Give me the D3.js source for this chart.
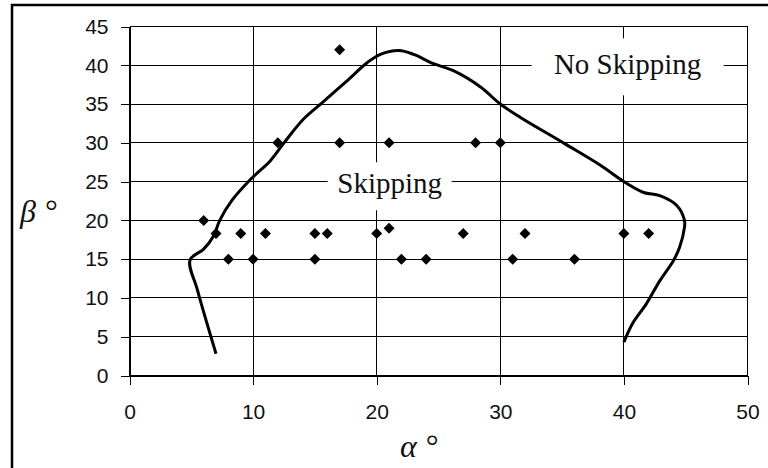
<!DOCTYPE html>
<html>
<head>
<meta charset="utf-8">
<script src="https://cdn.jsdelivr.net/npm/d3@7"></script>
<style>
  html, body { margin: 0; padding: 0; background: #fff; }
  svg { display: block; }
</style>
</head>
<body>
<svg id="chart" width="768" height="468"></svg>
<script>
// Measured (alpha, beta) combinations, in degrees
const pointAlpha = [6, 7, 8, 9, 10, 11, 12, 15, 15, 16, 17, 17, 20, 21, 21, 22, 24, 27, 28, 30, 31, 32, 36, 40, 42];
const pointBeta  = [20, 18.3, 15, 18.3, 15, 18.3, 30, 18.3, 15, 18.3, 42, 30, 18.3, 19, 30, 15, 15, 18.3, 30, 30, 15, 18.3, 15, 18.3, 18.3];

// Boundary between the skipping and no-skipping regions
const boundaryAlpha = [7.0, 5.5, 4.9, 6.0, 6.8, 7.3, 8.3, 9.8, 11.4, 12.5, 14.1, 15.6, 17.6, 19.2, 20.3, 21.8, 23.0, 24.6, 26.2, 28.4, 30.0, 31.6, 35.2, 38.1, 39.9, 41.6, 42.9, 44.3, 44.9, 44.9, 44.5, 44.0, 42.9, 41.8, 40.7, 40.0];
const boundaryBeta  = [2.8, 11.0, 14.9, 16.3, 18.0, 20.0, 22.6, 25.3, 27.7, 30.0, 33.1, 35.2, 38.0, 40.3, 41.4, 41.9, 41.4, 40.2, 39.3, 37.2, 35.0, 33.3, 29.9, 27.1, 25.1, 23.6, 23.2, 21.9, 20.0, 19.1, 16.5, 14.8, 12.2, 9.2, 6.7, 4.3];

const xTicks = [0, 10, 20, 30, 40, 50];
const yTicks = [0, 5, 10, 15, 20, 25, 30, 35, 40, 45];

const regionLabels = ["Skipping", "No Skipping"];
const regionAlpha = [21.05, 40.3];
const regionBeta = [24.4, 39.8];

const svg = d3.select("#chart");
const x = d3.scaleLinear().domain([0, 50]).range([129.5, 747.5]);
const y = d3.scaleLinear().domain([0, 45]).range([375.5, 26.5]);

// outer frame (left and top edges visible)
svg.append("rect")
  .attr("x", 12).attr("y", 5).attr("width", 900).attr("height", 600)
  .attr("fill", "none").attr("stroke", "#000").attr("stroke-width", 2.5);

const tickFont = "'Liberation Sans', Arial, sans-serif";

// horizontal grid + y axis
const yAxis = d3.axisLeft(y).tickValues(yTicks).tickSize(9).tickSizeOuter(0).tickPadding(12)
  .tickFormat(d3.format("d"));
const gy = svg.append("g").attr("transform", `translate(${x(0)},0)`).call(yAxis);
gy.select(".domain").attr("stroke", "#000").attr("shape-rendering", "crispEdges");
gy.selectAll(".tick line").attr("stroke", "#000").attr("shape-rendering", "crispEdges");
gy.selectAll(".tick text").attr("font-family", tickFont).attr("font-size", 21).attr("fill", "#111");

svg.append("g").selectAll("line").data(yTicks).join("line")
  .attr("x1", x(0)).attr("x2", x(50))
  .attr("y1", d => y(d)).attr("y2", d => y(d))
  .attr("stroke", "#000").attr("stroke-width", 1).attr("shape-rendering", "crispEdges");

// vertical grid + x axis
const xAxis = d3.axisBottom(x).tickValues(xTicks).tickSize(9).tickSizeOuter(0).tickPadding(20)
  .tickFormat(d3.format("d"));
const gx = svg.append("g").attr("transform", `translate(0,${y(0)})`).call(xAxis);
gx.select(".domain").attr("stroke", "#000").attr("shape-rendering", "crispEdges");
gx.selectAll(".tick line").attr("stroke", "#000").attr("shape-rendering", "crispEdges");
gx.selectAll(".tick text").attr("font-family", tickFont).attr("font-size", 21).attr("fill", "#111");

svg.append("g").selectAll("line").data(xTicks).join("line")
  .attr("x1", d => x(d)).attr("x2", d => x(d))
  .attr("y1", y(0)).attr("y2", y(45))
  .attr("stroke", "#000").attr("stroke-width", 1).attr("shape-rendering", "crispEdges");

// region labels on white boxes
const labelFont = "'Liberation Serif', 'Times New Roman', serif";
const boxes = [{w: 124, h: 48}, {w: 192, h: 57}];
regionLabels.forEach((t, i) => {
  const cx = x(regionAlpha[i]), cy = y(regionBeta[i]);
  svg.append("rect")
    .attr("x", cx - boxes[i].w / 2).attr("y", cy - boxes[i].h / 2)
    .attr("width", boxes[i].w).attr("height", boxes[i].h)
    .attr("fill", "#fff");
  svg.append("text")
    .attr("x", cx).attr("y", cy + 7)
    .attr("text-anchor", "middle")
    .attr("font-family", labelFont).attr("font-size", 29)
    .attr("fill", "#111")
    .text(t);
});

// boundary curve
const boundary = boundaryAlpha.map((a, i) => [a, boundaryBeta[i]]);
svg.append("path")
  .datum(boundary)
  .attr("fill", "none").attr("stroke", "#000").attr("stroke-width", 3)
  .attr("stroke-linejoin", "round")
  .attr("d", d3.line().x(d => x(d[0])).y(d => y(d[1])).curve(d3.curveCatmullRom.alpha(0.5)));

// measured points as diamonds
const r = 5.5;
svg.append("g").selectAll("path").data(pointAlpha.map((a, i) => [a, pointBeta[i]])).join("path")
  .attr("transform", d => `translate(${x(d[0])},${y(d[1])})`)
  .attr("d", `M0,${-r}L${r},0L0,${r}L${-r},0Z`)
  .attr("fill", "#000");

// axis titles
svg.append("text")
  .attr("x", 400).attr("y", 457)
  .attr("font-family", labelFont).attr("font-size", 32).attr("font-style", "italic")
  .attr("fill", "#111")
  .text("α °");
svg.append("text")
  .attr("x", 20).attr("y", 222)
  .attr("font-family", labelFont).attr("font-size", 32).attr("font-style", "italic")
  .attr("fill", "#111")
  .text("β °");
</script>
</body>
</html>
